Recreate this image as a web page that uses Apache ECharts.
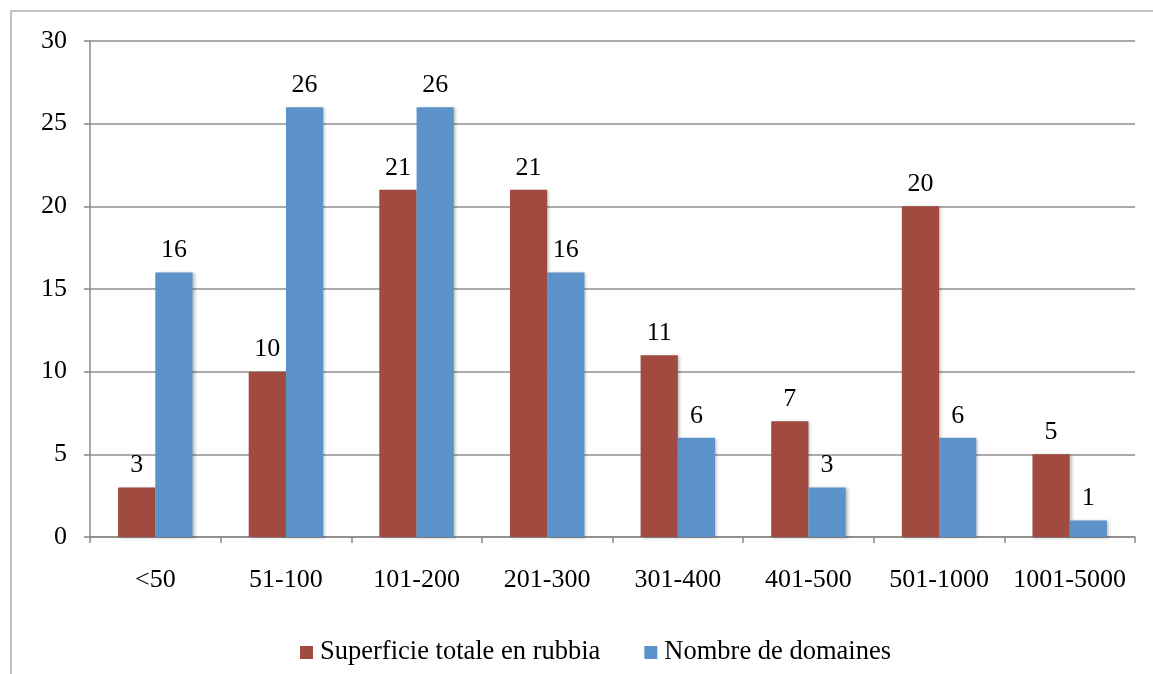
<!DOCTYPE html>
<html>
<head>
<meta charset="utf-8">
<script src="https://cdn.jsdelivr.net/npm/echarts@6/dist/echarts.min.js"></script>
<style>
html,body{margin:0;padding:0;background:#fff;}
#c{width:1153px;height:674px;}
</style>
</head>
<body>
<div id="c"></div>
<script>
const categories = ['<50','51-100','101-200','201-300','301-400','401-500','501-1000','1001-5000'];
const superficie = [3,10,21,21,11,7,20,5];
const domaines = [16,26,26,16,6,3,6,1];
const seriesNames = ['Superficie totale en rubbia','Nombre de domaines'];
const yTicks = {min:0,max:30,interval:5};

const FONT = '"Liberation Serif","Times New Roman",serif';
const chart = echarts.init(document.getElementById('c'));
const labelCfg = {show:true,position:'top',distance:9,color:'#000',fontFamily:FONT,fontSize:26};
const shadow = {shadowColor:'rgba(0,0,0,0.25)',shadowBlur:3,shadowOffsetX:2,shadowOffsetY:1};
chart.setOption({
  animation:false,
  backgroundColor:'#fff',
  graphic:[{type:'rect',shape:{x:11,y:11,width:1300,height:800},style:{fill:'none',stroke:'#b0b0b0',lineWidth:1.5},silent:true}],
  grid:{left:90,top:41,right:18,bottom:137,containLabel:false},
  legend:{
    left:295,top:634,itemWidth:13,itemHeight:13,itemGap:44,
    icon:'rect',
    textStyle:{fontFamily:FONT,fontSize:26.5,color:'#000',padding:[0,0,0,2]},
    data:seriesNames
  },
  xAxis:{
    type:'category',data:categories,
    axisLine:{lineStyle:{color:'#888',width:1.5}},
    axisTick:{show:true,length:6,lineStyle:{color:'#888',width:1.5}},
    axisLabel:{color:'#000',fontFamily:FONT,fontSize:26,margin:30,interval:0}
  },
  yAxis:{
    type:'value',min:yTicks.min,max:yTicks.max,interval:yTicks.interval,
    axisLine:{show:true,lineStyle:{color:'#888',width:1.5}},
    axisTick:{show:true,length:6,lineStyle:{color:'#888',width:1.5}},
    splitLine:{show:true,lineStyle:{color:'#8f8f8f',width:1.5}},
    axisLabel:{color:'#000',fontFamily:FONT,fontSize:26,margin:23}
  },
  series:[
    {name:seriesNames[0],type:'bar',data:superficie,barGap:'0%',barCategoryGap:'43%',
     itemStyle:Object.assign({color:'#A04A40'},shadow),label:labelCfg},
    {name:seriesNames[1],type:'bar',data:domaines,barGap:'0%',barCategoryGap:'43%',
     itemStyle:Object.assign({color:'#5B92C9'},shadow),label:labelCfg}
  ]
});
</script>
</body>
</html>
